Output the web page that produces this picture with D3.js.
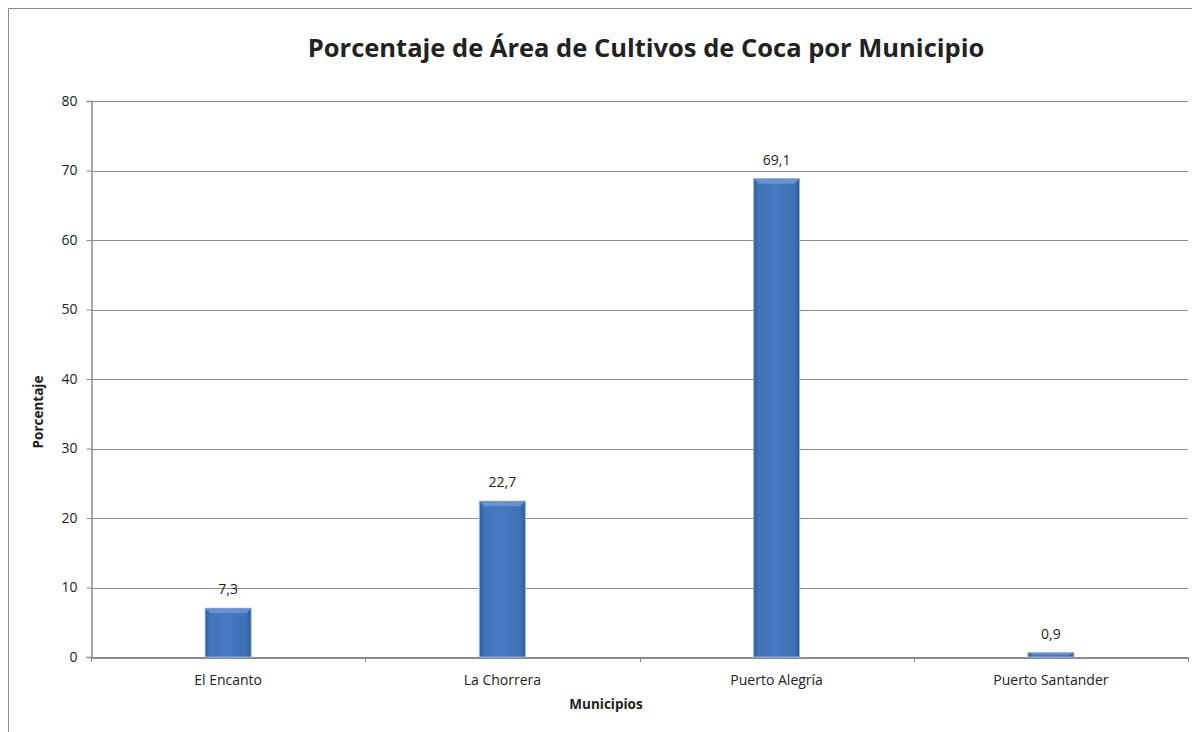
<!DOCTYPE html>
<html><head><meta charset="utf-8">
<script src="https://cdn.jsdelivr.net/npm/d3@7"></script>
<style>html,body{margin:0;padding:0;background:#fff;}svg{display:block;}</style>
</head><body>
<svg id="c" width="1192" height="732"></svg>
<script>
const categories = ["El Encanto", "La Chorrera", "Puerto Alegría", "Puerto Santander"];
const values = [7.3, 22.7, 69.1, 0.9];
const valueLabels = ["7,3", "22,7", "69,1", "0,9"];
const yTicks = [0, 10, 20, 30, 40, 50, 60, 70, 80];
const title = "Porcentaje de Área de Cultivos de Coca por Municipio";
const xTitle = "Municipios";
const yTitle = "Porcentaje";

const svg = d3.select("#c");
const font = "'Open Sans', 'Noto Sans', sans-serif";
const L = 91, R = 1188, T = 101, B = 657;

// frame
svg.append("rect").attr("x", 8.5).attr("y", 8.5).attr("width", 1300).attr("height", 800)
  .attr("fill", "#fff").attr("stroke", "#8c8c8c").attr("stroke-width", 1);

const defs = svg.append("defs");
const g1 = defs.append("linearGradient").attr("id", "barg").attr("x1", 0).attr("x2", 1).attr("y1", 0).attr("y2", 0);
g1.append("stop").attr("offset", "0%").attr("stop-color", "#2f5e9f");
g1.append("stop").attr("offset", "12%").attr("stop-color", "#4274ba");
g1.append("stop").attr("offset", "50%").attr("stop-color", "#4779c0");
g1.append("stop").attr("offset", "88%").attr("stop-color", "#3f71b6");
g1.append("stop").attr("offset", "100%").attr("stop-color", "#2d5b9c");

const x = d3.scaleBand().domain(categories).range([L, R]).paddingInner(0).paddingOuter(0);
const y = d3.scaleLinear().domain([0, 80]).range([B, T]);

// gridlines
svg.append("g").selectAll("line").data(yTicks.filter(d => d > 0)).join("line")
  .attr("x1", L).attr("x2", R).attr("y1", d => Math.round(y(d)) + 0.5).attr("y2", d => Math.round(y(d)) + 0.5)
  .attr("stroke", "#8c8c8c").attr("stroke-width", 1);

// y axis
const yAxis = svg.append("g").attr("transform", `translate(${L + 0.5},0)`)
  .call(d3.axisLeft(y).tickValues(yTicks).tickSize(5).tickPadding(9));
yAxis.select(".domain").attr("stroke", "#8c8c8c").attr("stroke-width", 1.5);
yAxis.selectAll(".tick line").attr("stroke", "#8c8c8c");
yAxis.selectAll(".tick text").attr("font-family", font).attr("font-size", 14).attr("fill", "#222");

// x axis
const xAxis = svg.append("g").attr("transform", `translate(0,${B + 0.5})`)
  .call(d3.axisBottom(x).tickSize(0).tickPadding(18));
xAxis.select(".domain").attr("stroke", "#8c8c8c").attr("stroke-width", 2);
xAxis.selectAll(".tick text").attr("font-family", font).attr("font-size", 14).attr("fill", "#222");
// category separator ticks
const sepTicks = categories.map(c => x(c)).concat([R]);
svg.append("g").selectAll("line").data(sepTicks).join("line")
  .attr("x1", d => Math.round(d) + 0.5).attr("x2", d => Math.round(d) + 0.5)
  .attr("y1", B).attr("y2", B + 5).attr("stroke", "#8c8c8c").attr("stroke-width", 1);

// bars
const bw = 46;
const bars = svg.append("g").selectAll("g").data(categories).join("g");
bars.append("rect")
  .attr("x", (d) => x(d) + x.bandwidth() / 2 - bw / 2)
  .attr("y", (d, i) => y(values[i]) + 2)
  .attr("width", bw)
  .attr("height", (d, i) => B - y(values[i]) - 2)
  .attr("fill", "url(#barg)")
  .attr("stroke", "#9db3d3").attr("stroke-width", 1);
// top bevel
bars.append("path")
  .attr("d", (d, i) => {
    const x0 = x(d) + x.bandwidth() / 2 - bw / 2, yt = y(values[i]) + 2;
    const h = Math.min(5, (B - yt) / 2);
    return `M${x0},${yt}L${x0 + bw},${yt}L${x0 + bw - 5},${yt + h}L${x0 + 5},${yt + h}Z`;
  })
  .attr("fill", "#6896d6").attr("opacity", 0.9);

// value labels
svg.append("g").selectAll("text").data(categories).join("text")
  .attr("x", d => x(d) + x.bandwidth() / 2)
  .attr("y", (d, i) => y(values[i]) - 12)
  .attr("text-anchor", "middle")
  .attr("font-family", font).attr("font-size", 14).attr("fill", "#222")
  .text((d, i) => valueLabels[i]);

// titles
svg.append("text").attr("x", 646).attr("y", 57).attr("text-anchor", "middle")
  .attr("font-family", font).attr("font-weight", "bold").attr("font-size", 25.5).attr("fill", "#222")
  .text(title);
svg.append("text").attr("x", 606).attr("y", 709).attr("text-anchor", "middle")
  .attr("font-family", font).attr("font-weight", "bold").attr("font-size", 13.5).attr("fill", "#222")
  .text(xTitle);
svg.append("text").attr("transform", "translate(43,412) rotate(-90)").attr("text-anchor", "middle")
  .attr("font-family", font).attr("font-weight", "bold").attr("font-size", 13.5).attr("fill", "#222")
  .text(yTitle);
</script>
</body></html>
